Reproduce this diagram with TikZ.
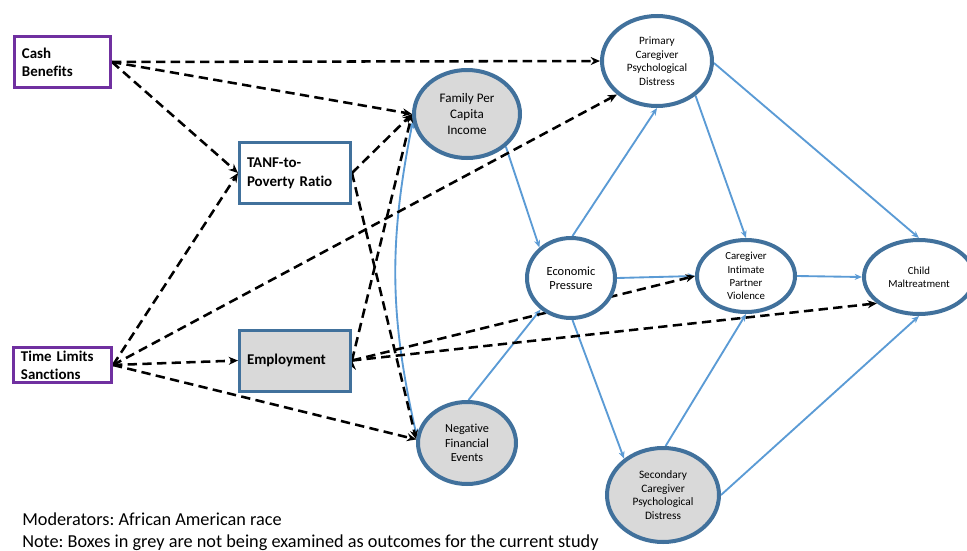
\documentclass[tikz,border=0pt]{standalone}
\usepackage{fontspec}
\setmainfont[Ligatures=NoCommon]{Carlito}
\usetikzlibrary{shapes.geometric, arrows.meta, positioning}
\definecolor{nodeblue}{HTML}{41719C}
\definecolor{pathblue}{HTML}{5B9BD5}
\definecolor{policypurple}{HTML}{7030A0}
\definecolor{outgrey}{HTML}{D9D9D9}
\pgfdeclarelayer{background}
\pgfsetlayers{background,main}
\frenchspacing
\tikzset{
    policy/.style={rectangle, draw=policypurple, line width=2.25pt, fill=white,
        align=left, inner xsep=5.6pt, inner ysep=0pt,
        font=\bfseries\fontsize{11.2}{13.7}\selectfont}, % welfare policy boxes
    mediator/.style={rectangle, draw=nodeblue, line width=2.25pt, fill=white,
        align=left, inner xsep=5.6pt, inner ysep=0pt, text width=72pt, minimum height=45.75pt,
        font=\bfseries\fontsize{11.2}{14.25}\selectfont},
    latent/.style={ellipse, draw=nodeblue, line width=3pt, fill=white, inner sep=0pt, align=center},
    policyline/.style={->, >={Stealth[length=7pt, width=6pt]}, line width=1.9pt, dash pattern=on 7pt off 4pt},
    causal/.style={->, >={Stealth[length=5.5pt, width=4.5pt]}, draw=pathblue, line width=1.4pt},
}

\begin{document}
\begin{tikzpicture}[x=0.75pt, y=-0.75pt]
        \useasboundingbox (0,0) rectangle (967,550);
        % Nodes
        \node[policy, text width=60.8pt, minimum height=38.25pt] (cash) at (62.5,62) {Cash\\Benefits};
        \node[policy, text width=62.3pt, minimum height=26.25pt, font=\bfseries\fontsize{11.2}{13.5}\selectfont] (time) at (62.5,365) {Time Limits\\Sanctions};
        \node[mediator] (tanf) at (295,173) {TANF-to-\\Poverty Ratio};
        \node[mediator, fill=outgrey] (emp) at (295,360.5) {Employment};

        \node[latent, fill=outgrey, minimum width=79.5pt, minimum height=66pt, font=\fontsize{9.8}{12}\selectfont] (fpci) at (467,114) {Family Per\\Capita\\Income};
        \node[latent, fill=outgrey, minimum width=73.5pt, minimum height=61.5pt, font=\fontsize{9.2}{11}\selectfont] (nfe) at (467,443) {Negative\\Financial\\Events};
        \node[latent, minimum width=82.5pt, minimum height=67.5pt, font=\fontsize{8.4}{10.2}\selectfont] (pcpd) at (657,61) {Primary\\Caregiver\\Psychological\\Distress};
        \node[latent, minimum width=66pt, minimum height=60pt, font=\fontsize{9.3}{10.8}\selectfont] (econ) at (571,278) {Economic\\Pressure};
        \node[latent, minimum width=73.5pt, minimum height=54pt, font=\fontsize{8.1}{9.9}\selectfont] (ipv) at (746,276) {Caregiver\\Intimate\\Partner\\Violence};
        \node[latent, minimum width=82.5pt, minimum height=55.5pt, font=\fontsize{8.1}{10}\selectfont] (child) at (919,277) {Child\\Maltreatment};
        \node[latent, fill=outgrey, minimum width=84pt, minimum height=70.5pt, font=\fontsize{8.5}{10.2}\selectfont] (scpd) at (663,495) {Secondary\\Caregiver\\Psychological\\Distress};

        \node[anchor=base west, inner sep=0pt, font=\fontsize{13.7}{16.5}\selectfont] (moderators) at (22,525) {Moderators: African American race};
        \node[anchor=base west, inner sep=0pt, font=\fontsize{13.7}{16.5}\selectfont] (note) at (22,547) {Note: Boxes in grey are not being examined as outcomes for the current study};

        % Draw lines
        \begin{pgfonlayer}{background}
        \draw[causal]
            (fpci.-40) edge (econ.136)
            (nfe.88) edge (econ.226)
            (econ.88) edge (pcpd.south)
            (econ.east) edge (ipv.west)
            (econ.-88) edge (scpd.137)
            (pcpd.-42) edge (ipv.north)
            (pcpd.-2) edge (child.north)
            (ipv.east) edge (child.west)
            (scpd.87) edge (ipv.south)
            (scpd.east) edge (child.south)

            (fpci.188) edge[bend right=12, <->] (nfe.172)
        ;
        \draw[policyline]
            (cash.east) edge (pcpd.west)
            (cash.east) edge (fpci.west)
            (cash.east) edge (tanf.west)

            (time.east) edge (tanf.west)
            (time.east) edge (pcpd.220)
            (time.east) edge (emp.west)
            (time.east) edge (nfe.176)

            (tanf.east) edge (fpci.west)
            (tanf.east) edge (nfe.176)

            (emp.east) edge (fpci.west)
            (emp.east) edge (ipv.west)
            (emp.east) edge (child.212)
        ;
        \end{pgfonlayer}
    \end{tikzpicture}
\end{document}
